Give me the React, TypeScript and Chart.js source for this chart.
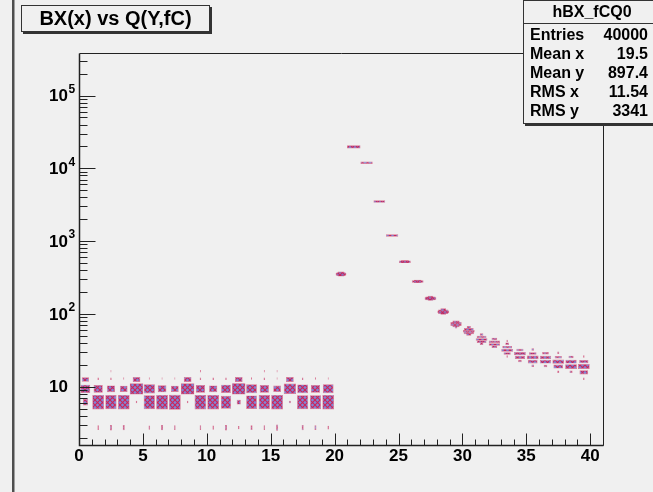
import React, { useEffect, useRef } from 'react';
import { Chart, registerables } from 'chart.js';

Chart.register(...registerables);

// ---------- texts ----------
const HIST_TITLE = 'BX(x) vs Q(Y,fC)';
const HIST_NAME = 'hBX_fCQ0';
const STAT_LABELS = ['Entries', 'Mean x', 'Mean y', 'RMS x', 'RMS y'];
const STAT_VALUES = ['40000', '19.5', '897.4', '11.54', '3341'];

// ---------- axes ----------
const X_MIN = 0;
const X_MAX = 41;
const Y_MIN = 1.585;
const Y_MAX = 3.84e5;
const Q_BIN_WIDTH = 3.17; // fC per y-bin
const X_TICK_LABELS = [0, 5, 10, 15, 20, 25, 30, 35, 40];
const Y_DECADE_LABELS = [1, 2, 3, 4, 5];

// ---------- pedestal region: BX 0..19, five charge bins ----------
const PED_BX = [0, 1, 2, 3, 4, 5, 6, 7, 8, 9, 10, 11, 12, 13, 14, 15, 16, 17, 18, 19];
const PED_Q = [3.17, 6.34, 9.51, 12.68, 15.85];
const PED_N_Q1 = [0, 14, 20, 18, 0, 12, 18, 14, 0, 14, 12, 20, 8, 16, 14, 24, 0, 18, 16, 10];
const PED_N_Q2 = [128, 648, 620, 648, 12, 592, 648, 692, 12, 648, 648, 512, 72, 565, 620, 648, 16, 592, 592, 648];
const PED_N_Q3 = [480, 420, 330, 280, 780, 600, 360, 280, 780, 420, 330, 480, 800, 560, 420, 300, 760, 540, 420, 560];
const PED_N_Q4 = [260, 8, 10, 6, 300, 6, 6, 6, 300, 8, 8, 8, 300, 6, 8, 6, 300, 8, 6, 6];
const PED_N_Q5 = [0, 0, 5, 0, 0, 0, 0, 0, 0, 5, 0, 0, 0, 0, 5, 5, 0, 0, 0, 0];

// ---------- signal region: BX 20..39 ----------
const TAIL_BX = [20, 21, 22, 23, 24, 25, 26, 27, 28, 29, 30, 31, 32, 33, 34, 35, 36, 37, 38, 39];
const TAIL_Q = [
  [326, 333, 340, 347, 354],
  [19000],
  [11500],
  [3360],
  [1150],
  [500, 504, 508],
  [266, 270, 274],
  [152, 155, 158, 161, 164],
  [99, 102, 105, 108, 111],
  [63.4, 66.6, 69.7, 72.9, 76.1],
  [50.7, 53.9, 57.1, 60.2, 63.4],
  [38.0, 41.2, 44.4, 47.6, 50.7],
  [34.9, 38.0, 41.2, 44.4],
  [25.4, 28.5, 31.7, 34.9, 38.0, 41.2],
  [22.2, 25.4, 28.5, 31.7],
  [19.0, 22.2, 25.4, 28.5, 31.7],
  [19.0, 22.2, 25.4, 28.5],
  [15.85, 19.0, 22.2, 25.4, 28.5],
  [15.85, 19.0, 22.2, 25.4],
  [12.68, 15.85, 19.0, 22.2, 25.4],
];
const TAIL_N = [
  [200, 400, 560, 400, 200],
  [800],
  [740],
  [700],
  [720],
  [350, 650, 300],
  [300, 680, 300],
  [150, 500, 700, 500, 150],
  [150, 500, 680, 500, 150],
  [30, 250, 600, 600, 250],
  [120, 500, 650, 450, 80],
  [60, 450, 650, 450, 60],
  [150, 600, 600, 150],
  [15, 250, 650, 450, 60, 15],
  [60, 500, 650, 250],
  [30, 480, 650, 300, 30],
  [60, 600, 600, 200],
  [25, 480, 680, 250, 25],
  [40, 650, 600, 120],
  [15, 350, 680, 400, 15],
];

const FONT = '"Liberation Sans", Arial, Helvetica, sans-serif';

function makeHatch(): CanvasPattern | string {
  const s = 5;
  const c = document.createElement('canvas');
  c.width = s;
  c.height = s;
  const g = c.getContext('2d');
  if (!g) return '#8088d8';
  g.fillStyle = '#7f86d6';
  g.fillRect(0, 0, s, s);
  g.strokeStyle = '#cf2356';
  g.lineWidth = 1.1;
  g.beginPath();
  g.moveTo(-1, -1);
  g.lineTo(s + 1, s + 1);
  g.moveTo(-1, s + 1);
  g.lineTo(s + 1, -1);
  g.stroke();
  return g.createPattern(c, 'repeat') || '#8088d8';
}

function buildDatasets(fill: CanvasPattern | string) {
  const cells: { bx: number; q: number; n: number }[] = [];
  const pedRows = [PED_N_Q1, PED_N_Q2, PED_N_Q3, PED_N_Q4, PED_N_Q5];
  PED_BX.forEach((bx, i) => {
    pedRows.forEach((row, r) => {
      if (row[i] > 0) cells.push({ bx, q: PED_Q[r], n: row[i] });
    });
  });
  TAIL_BX.forEach((bx, j) => {
    TAIL_Q[j].forEach((q, k) => cells.push({ bx, q, n: TAIL_N[j][k] }));
  });
  const nMax = Math.max(...cells.map((c) => c.n));
  const groups = new Map<number, { x: number; y: [number, number] }[]>();
  for (const c of cells) {
    const f = Math.sqrt(c.n / nMax);
    const key = Math.max(0.04, Math.round(f * 25) / 25);
    const bin = Math.round(c.q / Q_BIN_WIDTH);
    const lo = Math.log10((bin - 0.5) * Q_BIN_WIDTH);
    const hi = Math.log10((bin + 0.5) * Q_BIN_WIDTH);
    const mid = (lo + hi) / 2;
    const half = ((hi - lo) * f) / 2;
    const pt = { x: c.bx + 0.5, y: [Math.pow(10, mid - half), Math.pow(10, mid + half)] as [number, number] };
    if (!groups.has(key)) groups.set(key, []);
    groups.get(key)!.push(pt);
  }
  return Array.from(groups.entries()).map(([key, data]) => ({
    type: 'bar' as const,
    data,
    barPercentage: key,
    categoryPercentage: 1,
    grouped: false,
    backgroundColor: fill,
    borderColor: 'rgba(200,35,85,0.6)',
    borderWidth: 0.7,
    borderSkipped: false,
    minBarLength: 2.5,
  }));
}

const rootPad = {
  id: 'rootPad',
  beforeDraw(chart: any) {
    const ctx = chart.ctx;
    ctx.save();
    ctx.fillStyle = '#f0f0f0';
    ctx.fillRect(0, 0, chart.width, chart.height);
    ctx.restore();
  },
  afterDatasetsDraw(chart: any) {
    const { ctx, chartArea: a, scales } = chart;
    const xs = scales.x;
    const ys = scales.y;
    ctx.save();
    const L = Math.round(a.left) + 0.5;
    const R = Math.round(a.right) + 0.5;
    const T = Math.round(a.top) + 0.5;
    const B = Math.round(a.bottom) + 0.5;

    // frame
    ctx.strokeStyle = '#222';
    ctx.lineWidth = 1;
    ctx.beginPath();
    ctx.moveTo(L, T);
    ctx.lineTo(R, T);
    ctx.lineTo(R, B);
    ctx.stroke();
    ctx.lineWidth = 1.5;
    ctx.beginPath();
    ctx.moveTo(L, T);
    ctx.lineTo(L, B);
    ctx.lineTo(R, B);
    ctx.stroke();

    // x ticks (inside)
    ctx.lineWidth = 1;
    ctx.beginPath();
    for (let v = X_MIN; v <= X_MAX; v += 1) {
      const px = Math.round(xs.getPixelForValue(v)) + 0.5;
      const len = v % 5 === 0 ? 12 : 6;
      ctx.moveTo(px, B);
      ctx.lineTo(px, B - len);
    }
    // y ticks (inside)
    for (let d = 0; d <= 5; d++) {
      for (let m = 1; m <= 9; m++) {
        const v = m * Math.pow(10, d);
        if (v < Y_MIN || v > Y_MAX) continue;
        const py = Math.round(ys.getPixelForValue(v)) + 0.5;
        const len = m === 1 ? 16 : 8;
        ctx.moveTo(L, py);
        ctx.lineTo(L + len, py);
      }
    }
    ctx.stroke();

    // x labels
    ctx.fillStyle = '#000';
    ctx.font = `bold 17px ${FONT}`;
    ctx.textAlign = 'center';
    ctx.textBaseline = 'middle';
    for (const v of X_TICK_LABELS) {
      ctx.fillText(String(v), xs.getPixelForValue(v), B + 11);
    }
    // y labels
    for (const e of Y_DECADE_LABELS) {
      const py = ys.getPixelForValue(Math.pow(10, e));
      ctx.font = `bold 17px ${FONT}`;
      ctx.textAlign = 'right';
      ctx.textBaseline = 'middle';
      ctx.fillText('10', 68, py + 1);
      if (e > 1) {
        ctx.font = `bold 12px ${FONT}`;
        ctx.textAlign = 'left';
        ctx.fillText(String(e), 68.5, py - 6);
      }
    }

    // left pad border
    ctx.fillStyle = '#4e4e4e';
    ctx.fillRect(12, 0, 2.5, chart.height);

    // title box
    const tx0 = 21, ty0 = 5, tx1 = 210, ty1 = 32;
    ctx.fillStyle = '#333';
    ctx.fillRect(tx0 + 2, ty0 + 2, tx1 - tx0, ty1 - ty0);
    ctx.fillStyle = '#f0f0f0';
    ctx.fillRect(tx0, ty0, tx1 - tx0, ty1 - ty0);
    ctx.strokeStyle = '#333';
    ctx.lineWidth = 1;
    ctx.strokeRect(tx0 + 0.5, ty0 + 0.5, tx1 - tx0 - 1, ty1 - ty0 - 1);
    ctx.fillStyle = '#000';
    ctx.font = `bold 20px ${FONT}`;
    ctx.textAlign = 'center';
    ctx.textBaseline = 'middle';
    ctx.fillText(HIST_TITLE, (tx0 + tx1) / 2, (ty0 + ty1) / 2 + 1);

    // stats box
    const sx0 = 523, sy0 = 0, sx1 = 660, sy1 = 124;
    ctx.fillStyle = '#333';
    ctx.fillRect(sx0 + 2, sy0 + 2, sx1 - sx0, sy1 - sy0);
    ctx.fillStyle = '#f0f0f0';
    ctx.fillRect(sx0, sy0, sx1 - sx0, sy1 - sy0);
    ctx.strokeStyle = '#333';
    ctx.strokeRect(sx0 + 0.5, sy0 + 0.5, sx1 - sx0, sy1 - sy0 - 1);
    ctx.beginPath();
    ctx.moveTo(sx0, 23.5);
    ctx.lineTo(sx1, 23.5);
    ctx.stroke();
    ctx.fillStyle = '#000';
    ctx.font = `bold 16px ${FONT}`;
    ctx.textAlign = 'center';
    ctx.fillText(HIST_NAME, 592, 13);
    const rowsY = [36, 55, 74, 93, 112];
    STAT_LABELS.forEach((lab, i) => {
      ctx.textAlign = 'left';
      ctx.fillText(lab, 530, rowsY[i]);
      ctx.textAlign = 'right';
      ctx.fillText(STAT_VALUES[i], 648, rowsY[i]);
    });
    ctx.restore();
  },
};

export default function App() {
  const ref = useRef<HTMLCanvasElement | null>(null);
  useEffect(() => {
    if (!ref.current) return;
    const fill = makeHatch();
    const chart = new Chart(ref.current, {
      type: 'bar',
      data: { datasets: buildDatasets(fill) as any },
      options: {
        responsive: false,
        animation: false,
        events: [],
        layout: { padding: { left: 79, right: 50, top: 53, bottom: 47 } },
        scales: {
          x: { type: 'linear', min: X_MIN, max: X_MAX, display: false, offset: false },
          y: { type: 'logarithmic', min: Y_MIN, max: Y_MAX, display: false },
        },
        plugins: { legend: { display: false }, tooltip: { enabled: false } },
      },
      plugins: [rootPad],
    });
    return () => chart.destroy();
  }, []);
  return (
    <div style={{ position: 'absolute', left: 0, top: 0, width: 653, height: 492 }}>
      <canvas ref={ref} width={653} height={492} style={{ display: 'block' }} />
    </div>
  );
}
